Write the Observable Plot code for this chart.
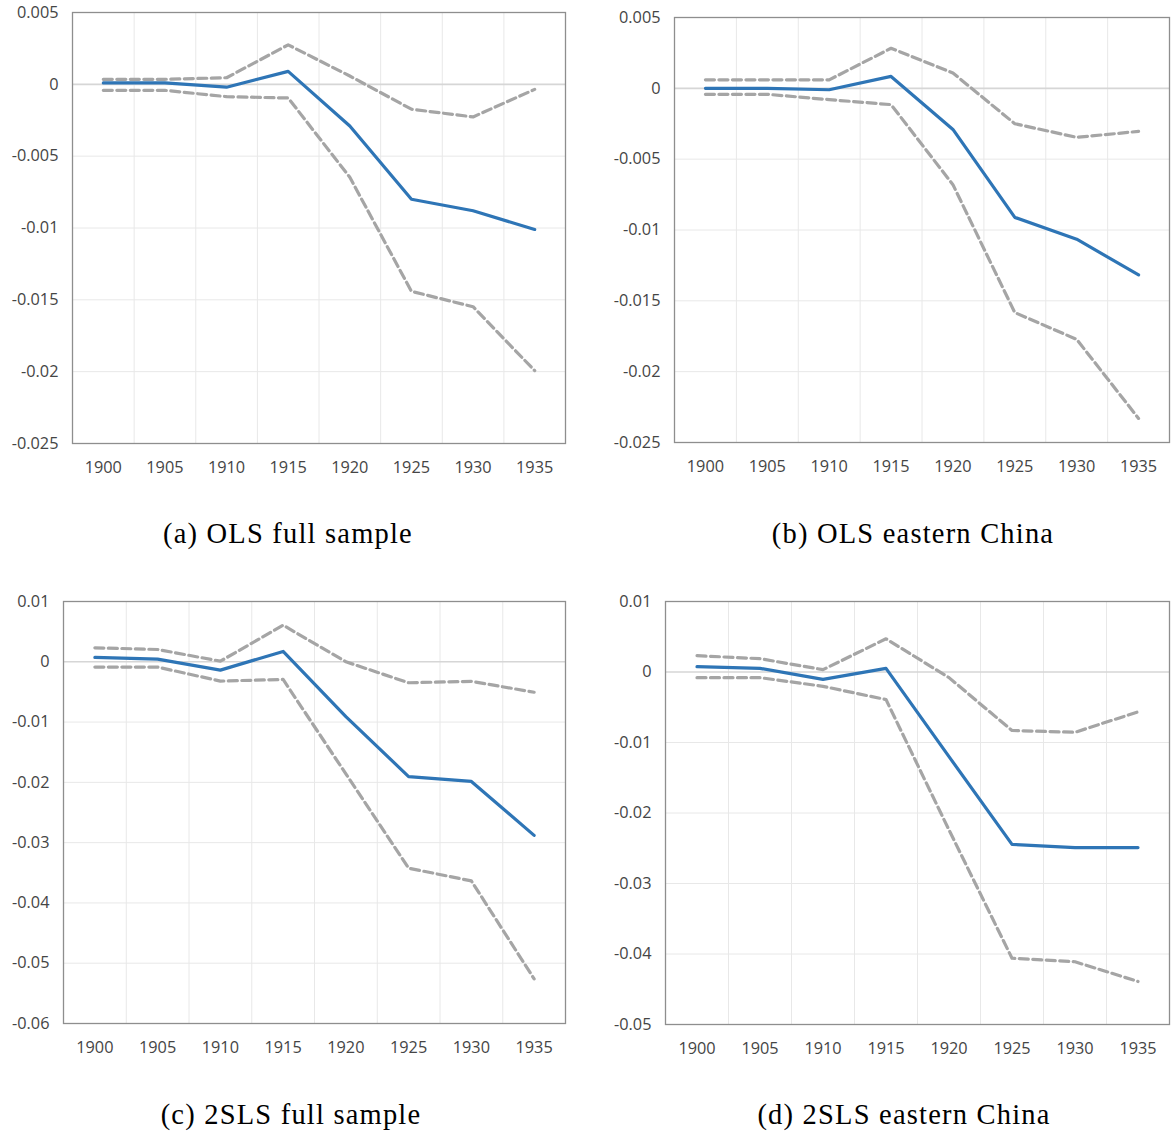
<!DOCTYPE html>
<html>
<head>
<meta charset="utf-8">
<script src="https://cdn.jsdelivr.net/npm/d3@7"></script>
<script src="https://cdn.jsdelivr.net/npm/@observablehq/plot@0.6"></script>
<style>
  html, body { margin: 0; padding: 0; background: #fff; }
  #root { position: relative; width: 1171px; height: 1133px; overflow: hidden; }
  .panel { position: absolute; }
  .cap { position: absolute; width: 500px; text-align: center; font-family: "Liberation Serif", serif;
         font-size: 28.5px; letter-spacing: 1.2px; color: #000; line-height: 1; }
</style>
</head>
<body>
<div id="root"></div>
<script>
// ---- data ----
const years = [1900, 1905, 1910, 1915, 1920, 1925, 1930, 1935];

const olsFullEst   = [0.0001, 0.0001, -0.0002, 0.0009, -0.0029, -0.0080, -0.0088, -0.0101];
const olsFullUpper = [0.00035, 0.00035, 0.00046, 0.00275, 0.00058, -0.00173, -0.00227, -0.00035];
const olsFullLower = [-0.00042, -0.00042, -0.00086, -0.00095, -0.00647, -0.01441, -0.01548, -0.01993];

const olsEastEst   = [0.0000, 0.0000, -0.0001, 0.00084, -0.0029, -0.00911, -0.01065, -0.01317];
const olsEastUpper = [0.0006, 0.0006, 0.0006, 0.00283, 0.00108, -0.0025, -0.00346, -0.00304];
const olsEastLower = [-0.00042, -0.00042, -0.0008, -0.00115, -0.0068, -0.01583, -0.01772, -0.0233];

const ivFullEst    = [0.00072, 0.00044, -0.00138, 0.00171, -0.0091, -0.01904, -0.01985, -0.0288];
const ivFullUpper  = [0.00232, 0.00204, 0.0001, 0.00607, 0.0000, -0.00348, -0.00324, -0.00505];
const ivFullLower  = [-0.00088, -0.00088, -0.0032, -0.00293, -0.0186, -0.03423, -0.03635, -0.0526];

const ivEastEst    = [0.00075, 0.00052, -0.00104, 0.00052, -0.0120, -0.02445, -0.0249, -0.0249];
const ivEastUpper  = [0.00231, 0.00189, 0.00033, 0.00471, -0.0008, -0.0083, -0.00855, -0.00566];
const ivEastLower  = [-0.0008, -0.0008, -0.00203, -0.00391, -0.0224, -0.0406, -0.0411, -0.0439];

const olsTicks = [0.005, 0, -0.005, -0.01, -0.015, -0.02, -0.025];
const ivFullTicks = [0.01, 0, -0.01, -0.02, -0.03, -0.04, -0.05, -0.06];
const ivEastTicks = [0.01, 0, -0.01, -0.02, -0.03, -0.04, -0.05];

const captions = ["(a) OLS full sample", "(b) OLS eastern China", "(c) 2SLS full sample", "(d) 2SLS eastern China"];

// ---- layout ----
const panels = [
  {est: olsFullEst, up: olsFullUpper, lo: olsFullLower, ticks: olsTicks, cap: captions[0],
   left: 0, top: 0, width: 580, height: 490, ml: 72, mr: 15, mt: 12, mb: 47, capX: 288, capY: 534},
  {est: olsEastEst, up: olsEastUpper, lo: olsEastLower, ticks: olsTicks, cap: captions[1],
   left: 585, top: 0, width: 586, height: 490, ml: 89, mr: 2, mt: 17, mb: 48, capX: 913, capY: 534},
  {est: ivFullEst, up: ivFullUpper, lo: ivFullLower, ticks: ivFullTicks, cap: captions[2],
   left: 0, top: 585, width: 580, height: 490, ml: 63, mr: 15, mt: 16, mb: 52, capX: 291, capY: 1115},
  {est: ivEastEst, up: ivEastUpper, lo: ivEastLower, ticks: ivEastTicks, cap: captions[3],
   left: 585, top: 585, width: 586, height: 490, ml: 80, mr: 2, mt: 16, mb: 51, capX: 904, capY: 1115}
];

const root = document.getElementById("root");
const gridX = years.slice(1).map(y => y - 2.5);

for (const p of panels) {
  const rows = (arr) => years.map((y, i) => ({year: y, v: arr[i]}));
  const yMax = d3.max(p.ticks), yMin = d3.min(p.ticks);
  const chart = Plot.plot({
    width: p.width,
    height: p.height,
    marginLeft: p.ml, marginRight: p.mr, marginTop: p.mt, marginBottom: p.mb,
    style: {fontFamily: "'Open Sans', sans-serif", fontSize: "16.3px", color: "#454545", background: "transparent"},
    x: {domain: [1897.5, 1937.5], ticks: years, tickFormat: d => String(d), tickSize: 0, tickPadding: 18, label: null},
    y: {domain: [yMin, yMax], ticks: p.ticks, tickFormat: d => String(d), tickSize: 0, tickPadding: 14, label: null},
    marks: [
      Plot.ruleY(p.ticks.filter(t => t !== 0 && t !== yMin && t !== yMax), {stroke: "#e8e8e8", strokeWidth: 1}),
      Plot.ruleX(gridX, {y1: yMin, y2: yMax, stroke: "#e8e8e8", strokeWidth: 1}),
      Plot.ruleY([0], {stroke: "#d6d6d6", strokeWidth: 1.6}),
      Plot.line(rows(p.up), {x: "year", y: "v", stroke: "#a5a5a5", strokeWidth: 3.2, strokeDasharray: "9,4.5", strokeLinejoin: "round"}),
      Plot.line(rows(p.lo), {x: "year", y: "v", stroke: "#a5a5a5", strokeWidth: 3.2, strokeDasharray: "9,4.5", strokeLinejoin: "round"}),
      Plot.line(rows(p.est), {x: "year", y: "v", stroke: "#2e75b6", strokeWidth: 3.2, strokeLinejoin: "round"}),
      Plot.frame({stroke: "#8e8e8e", strokeWidth: 1.3})
    ]
  });
  chart.classList.add("panel");
  chart.style.left = p.left + "px";
  chart.style.top = p.top + "px";
  root.appendChild(chart);

  const cap = document.createElement("div");
  cap.className = "cap";
  cap.textContent = p.cap;
  cap.style.left = (p.capX - 250) + "px";
  cap.style.top = (p.capY - 14) + "px";
  root.appendChild(cap);
}
</script>
</body>
</html>
